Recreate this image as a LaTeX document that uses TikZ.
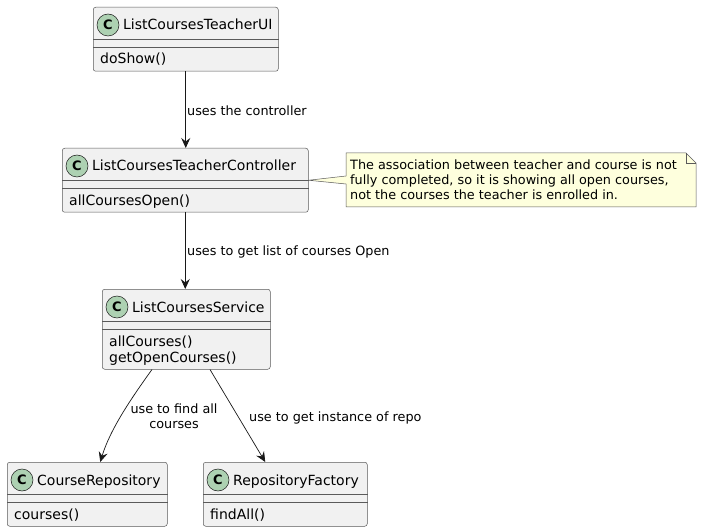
\documentclass[tikz,border=0pt]{standalone}
\usepackage{fontspec}
\setmainfont{DejaVu Sans}
\usetikzlibrary{calc,arrows.meta,backgrounds}
\definecolor{bord}{HTML}{181818}
\definecolor{sepc}{HTML}{5A5A5A}
\definecolor{clsfill}{HTML}{F1F1F1}
\definecolor{circfill}{HTML}{ADD1B2}
\definecolor{notefill}{HTML}{FEFFDD}
\tikzset{
  clsbox/.style={draw=sepc, line width=0.5pt, fill=clsfill, rounded corners=2.5pt, inner sep=0pt},
  clsline/.style={draw=sepc, line width=0.5pt},
  circ/.style={circle, draw=bord, line width=0.5pt, fill=circfill, minimum size=22pt, inner sep=0pt, font=\fontsize{13}{13}\selectfont\bfseries},
  ctitle/.style={inner sep=0pt, anchor=base west, font=\fontsize{14}{16}\selectfont},
  meth/.style={inner sep=0pt, anchor=base west, font=\fontsize{14}{16}\selectfont},
  lbl/.style={inner sep=0pt, font=\fontsize{12.8}{15}\selectfont},
  arr/.style={draw=bord, line width=0.7pt, -{Stealth[length=10pt,width=9pt,inset=3.5pt]}},
}
\newcommand\umlcls[7]{%
  \node[clsbox, minimum width=#4, minimum height=#5, anchor=north west] (#1) at (#2,#3) {};
  \draw[clsline] ($(#1.north west)+(0,-32)$) -- ($(#1.north east)+(0,-32)$);
  \draw[clsline] ($(#1.north west)+(0,-40)$) -- ($(#1.north east)+(0,-40)$);
  \node[circ] (#1-c) at ($(#1.north west)+(15,-18)$) {C};
  \node[ctitle] (#1-t) at ($(#1.north west)+(30,-23)$) {#6};
  \node[meth] (#1-m) at ($(#1.north west)+(7,-57)$) {#7};
}
\begin{document}
\begin{tikzpicture}[x=1pt,y=1pt]
\useasboundingbox (0,0) rectangle (702,-532);

\umlcls{ui}{93}{-7}{185}{64}{ListCoursesTeacherUI}{doShow()}
\umlcls{ctrl}{62}{-148}{246}{64}{ListCoursesTeacherController}{allCoursesOpen()}
\umlcls{svc}{102}{-289}{168}{80}{ListCoursesService}{allCourses()}
\node[meth] (svc-m2) at ($(svc.north west)+(7,-73.5)$) {getOpenCourses()};
\umlcls{crepo}{7}{-462}{160}{64}{CourseRepository}{courses()}
\umlcls{rf}{203}{-462}{164}{64}{RepositoryFactory}{findAll()}

% note
\node[lbl, anchor=north west, align=left] (note) at (350,-160)
  {\baselineskip=15.5pt The association between teacher and course is not\\
   fully completed, so it is showing all open courses,\\
   not the courses the teacher is enrolled in.};
\begin{scope}[on background layer]
\draw[draw=sepc, line width=0.5pt, fill=notefill]
  (346,-153) -- (686,-153) -- (696,-163) -- (696,-207) -- (346,-207) -- (346,-184)
  -- (ctrl.east) -- (346,-176) -- cycle;
\draw[draw=sepc, line width=0.5pt] (686,-153) -- (686,-163) -- (696,-163);
\end{scope}

% connectors
\draw[arr] (ui.south) -- (ui.south |- ctrl.north);
\node[lbl, anchor=west] (l1) at (187,-110.5) {uses the controller};
\draw[arr] (ctrl.south) -- (ctrl.south |- svc.north);
\node[lbl, anchor=west] (l2) at (187,-251.5) {uses to get list of courses Open};
\draw[arr] ($(svc.south west)+(50,0)$) .. controls (130,-400) and (110,-430) .. ($(crepo.north)+(13,0)$);
\node[lbl, align=center] (l3) at (174,-416) {\baselineskip=15pt use to find all\\courses};
\draw[arr] ($(svc.south west)+(108,0)$) -- ($(rf.north)+(-20,0)$);
\node[lbl, anchor=west] (l4) at (249,-417.5) {use to get instance of repo};
\end{tikzpicture}
\end{document}
